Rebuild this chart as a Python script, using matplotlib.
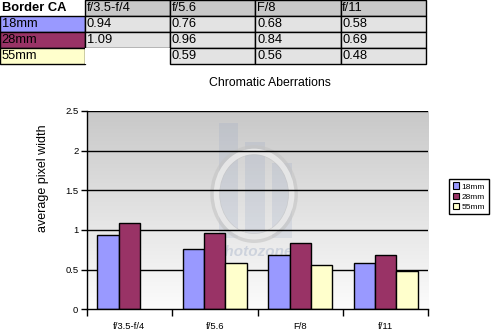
import numpy as np
import matplotlib
matplotlib.use("Agg")
import matplotlib.pyplot as plt
from matplotlib.patches import Patch, Rectangle, Ellipse

plt.rcParams['font.family'] = ['Liberation Sans', 'DejaVu Sans']

apertures = ["f/3.5-f/4", "f/5.6", "F/8", "f/11"]
lenses = ["18mm", "28mm", "55mm"]
ca_18 = [0.94, 0.76, 0.68, 0.58]
ca_28 = [1.09, 0.96, 0.84, 0.69]
ca_55 = [None, 0.59, 0.56, 0.48]
colors = ["#9999ff", "#993366", "#ffffcc"]

fig = plt.figure(figsize=(4.93, 3.35), dpi=100)

# --- table on top ---
tax = fig.add_axes([0, 1 - 64 / 335, 425.7 / 493, 64 / 335])
tax.axis("off")
rows = [["Border CA"] + apertures]
for name, vals in zip(lenses, [ca_18, ca_28, ca_55]):
    rows.append([name] + ["" if v is None else "%.2f" % v for v in vals])
tbl = tax.table(cellText=rows, bbox=[0, 0, 1, 1], cellLoc="left")
tbl.auto_set_font_size(False)
for (r, c), cell in tbl.get_celld().items():
    cell.PAD = 0.02
    cell.set_linewidth(1.0)
    cell.get_text().set_fontsize(9.3)
    if r == 0:
        cell.set_facecolor("white" if c == 0 else "#c8c8c8")
        if c == 0:
            cell.get_text().set_fontweight("bold")
            cell.set_linewidth(0)
    elif c == 0:
        cell.set_facecolor(colors[r - 1])
    else:
        cell.set_facecolor("#e3e3e3")
    if r == 3 and c == 1:
        cell.set_facecolor("white")
        cell.set_linewidth(0)

# --- bar chart ---
ax = fig.add_axes([86.7 / 493, 1 - 309.3 / 335, 341.6 / 493, 198.3 / 335])
x = np.arange(len(apertures))
w = 0.25
grad = np.linspace(0, 1, 256).reshape(-1, 1)
ax.imshow(grad, extent=[-0.5, 3.5, 0, 2.5], aspect="auto",
          cmap=matplotlib.colors.LinearSegmentedColormap.from_list("g", ["#fcfcfc", "#c8c8c8"]),
          origin="lower", zorder=0)

# faint photozone watermark (axes fraction coords)
wm = dict(transform=ax.transAxes, facecolor="#8a9cc0", alpha=0.18, lw=0, zorder=0.5)
ax.add_patch(Rectangle((0.387, 0.36), 0.056, 0.58, **wm))
ax.add_patch(Rectangle((0.463, 0.36), 0.059, 0.484, **wm))
ax.add_patch(Rectangle((0.542, 0.36), 0.059, 0.378, **wm))
ax.add_patch(Ellipse((0.49, 0.581), 0.228, 0.444, facecolor="none", edgecolor="#c4c4c4",
                     lw=7, alpha=0.6, transform=ax.transAxes, zorder=0.6))
ax.add_patch(Ellipse((0.49, 0.581), 0.22, 0.43, facecolor="none", edgecolor="#eeeeee",
                     lw=4, alpha=0.8, transform=ax.transAxes, zorder=0.7))
ax.text(0.491, 0.289, "photozone", transform=ax.transAxes, fontsize=11, fontstyle="italic",
        fontweight="bold", color="#b4bed0", alpha=0.55, ha="center", va="center", zorder=0.6)

for y in [0.5, 1.0, 1.5, 2.0, 2.5]:
    ax.axhline(y, color="black", lw=1, zorder=1)
for j, vals in enumerate([ca_18, ca_28, ca_55]):
    xs = [xi + (j - 1) * w for xi, v in zip(x, vals) if v is not None]
    hs = [v for v in vals if v is not None]
    ax.bar(xs, hs, width=w, color=colors[j], edgecolor="black", lw=1, zorder=2)
ax.set_xlim(-0.5, 3.5)
ax.set_ylim(0, 2.5)
ax.set_yticks([0, 0.5, 1, 1.5, 2, 2.5])
ax.set_yticklabels(["0", "0.5", "1", "1.5", "2", "2.5"], fontsize=6.8)
ax.set_xticks(x)
ax.set_xticklabels(apertures, fontsize=6.8)
ax.set_xticks([-0.5, 0.5, 1.5, 2.5, 3.5], minor=True)
ax.tick_params(axis="x", which="major", length=0, pad=9)
ax.tick_params(axis="x", which="minor", length=5, width=1)
ax.tick_params(axis="y", length=4, width=1, pad=2)
for s in ["top", "right"]:
    ax.spines[s].set_visible(False)
ax.spines["left"].set_linewidth(1)
ax.spines["bottom"].set_linewidth(1)
ax.set_ylabel("average pixel width", fontsize=9)
ax.yaxis.set_label_coords(-0.11, 0.66)
fig.text(270 / 493, 1 - 83 / 335, "Chromatic Aberrations", fontsize=8.8, ha="center", va="center")

handles = [Patch(facecolor=c, edgecolor="black", lw=0.8) for c in colors]
fig.legend(handles, lenses, loc="upper left", bbox_to_anchor=(445 / 493, 1 - 175 / 335),
           fontsize=6, frameon=True, fancybox=False, edgecolor="black", handlelength=0.8,
           handleheight=0.8, handletextpad=0.3, borderpad=0.4, labelspacing=0.25, framealpha=1)

fig.savefig("out.png", dpi=100)
